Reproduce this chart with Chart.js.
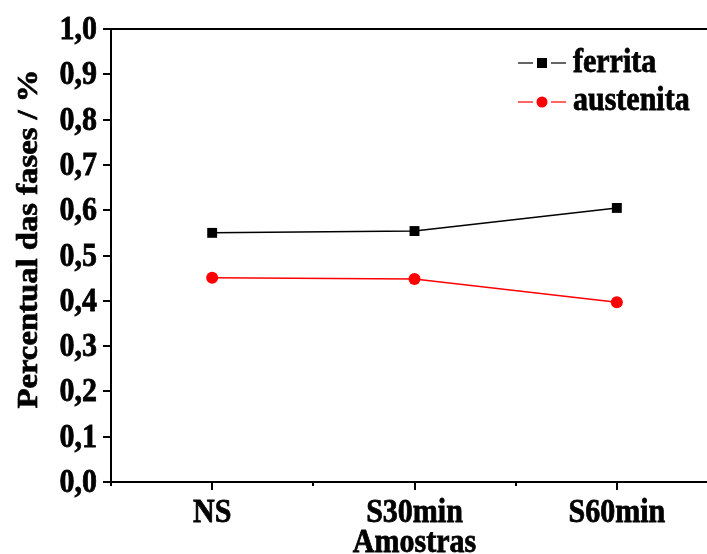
<!DOCTYPE html>
<html>
<head>
<meta charset="utf-8">
<script src="https://cdn.jsdelivr.net/npm/chart.js@4/dist/chart.umd.min.js"></script>
<style>
  html, body { margin: 0; padding: 0; background: #fff; overflow: hidden; }
  #wrap { width: 707px; height: 554px; overflow: hidden; }
</style>
</head>
<body>
<div id="wrap"><canvas id="c" width="740" height="554"></canvas></div>
<script>
// Samples and phase fractions
const categories = ['NS', 'S30min', 'S60min'];
const ferrita = [0.550, 0.554, 0.605];
const austenita = [0.451, 0.448, 0.397];
const yTicks = [0.0, 0.1, 0.2, 0.3, 0.4, 0.5, 0.6, 0.7, 0.8, 0.9, 1.0];

const FONT = '"Liberation Serif", "Times New Roman", serif';
const TEXT_FONT = 'bold 30px ' + FONT;
const STRETCH = 1.09; // tall serif lettering

const toPoints = arr => arr.map((v, i) => ({ x: i, y: v }));

// Heavy serif text, slightly elongated vertically
function drawText(ctx, str, x, y, align, rotate) {
  ctx.save();
  ctx.translate(x, y);
  ctx.scale(1, STRETCH);
  if (rotate) ctx.rotate(-Math.PI / 2);
  ctx.font = TEXT_FONT;
  ctx.textAlign = align;
  ctx.textBaseline = 'alphabetic';
  ctx.fillStyle = '#000';
  ctx.strokeStyle = '#000';
  ctx.lineWidth = 0.7;
  ctx.fillText(str, 0, 0);
  ctx.strokeText(str, 0, 0);
  ctx.restore();
}

// Frame, tick marks, tick labels, axis titles and legend
const decorations = {
  id: 'decorations',
  afterDraw(chart) {
    const { ctx, chartArea: a, scales: { x, y } } = chart;
    ctx.save();
    ctx.strokeStyle = '#000';
    ctx.lineWidth = 2;
    ctx.strokeRect(a.left, a.top, a.right - a.left, a.bottom - a.top);

    // y ticks (outward) with labels
    yTicks.forEach(v => {
      const py = Math.round(y.getPixelForValue(v));
      ctx.beginPath();
      ctx.moveTo(a.left - 8, py);
      ctx.lineTo(a.left, py);
      ctx.stroke();
      drawText(ctx, v.toFixed(1).replace('.', ','), 97, py + 10, 'right');
    });
    // x ticks: major at categories, minor between them
    for (let v = -0.5; v <= 2.5; v += 0.5) {
      const px = Math.round(x.getPixelForValue(v));
      const major = Number.isInteger(v);
      ctx.beginPath();
      ctx.moveTo(px, a.bottom);
      ctx.lineTo(px, a.bottom + (major ? 8 : 4));
      ctx.stroke();
    }
    categories.forEach((c, i) => {
      drawText(ctx, c, x.getPixelForValue(i), 522, 'center');
    });

    // axis titles
    drawText(ctx, 'Amostras', (a.left + a.right) / 2, 552, 'center');
    drawText(ctx, 'Percentual das fases / %', 37, 239, 'center', true);

    // legend
    const items = [
      { label: 'ferrita', color: '#000', lineColor: '#333', shape: 'rect', y: 63, base: 72 },
      { label: 'austenita', color: '#ff0000', lineColor: '#ff3333', shape: 'circle', y: 102, base: 110 }
    ];
    items.forEach(it => {
      ctx.strokeStyle = it.lineColor;
      ctx.lineWidth = 1.5;
      ctx.beginPath();
      ctx.moveTo(518, it.y);
      ctx.lineTo(533, it.y);
      ctx.moveTo(551, it.y);
      ctx.lineTo(566, it.y);
      ctx.stroke();
      ctx.fillStyle = it.color;
      if (it.shape === 'rect') {
        ctx.fillRect(537, it.y - 5, 10, 10);
      } else {
        ctx.beginPath();
        ctx.arc(542, it.y, 5.5, 0, Math.PI * 2);
        ctx.fill();
      }
      drawText(ctx, it.label, 573, it.base, 'left');
    });
    ctx.restore();
  }
};

new Chart(document.getElementById('c'), {
  type: 'line',
  data: {
    datasets: [
      {
        label: 'ferrita',
        data: toPoints(ferrita),
        borderColor: '#000',
        backgroundColor: '#000',
        borderWidth: 1.5,
        pointStyle: 'rect',
        pointRadius: 7,
        pointBorderWidth: 0,
        tension: 0
      },
      {
        label: 'austenita',
        data: toPoints(austenita),
        borderColor: '#ff0000',
        backgroundColor: '#ff0000',
        borderWidth: 1.5,
        pointStyle: 'circle',
        pointRadius: 6,
        pointBorderWidth: 0,
        tension: 0
      }
    ]
  },
  options: {
    responsive: false,
    animation: false,
    layout: { padding: { top: 29, right: 22, left: 0, bottom: 0 } },
    plugins: { legend: { display: false }, tooltip: { enabled: false } },
    scales: {
      x: {
        type: 'linear',
        min: -0.5,
        max: 2.5,
        afterFit: s => { s.height = 72; },
        grid: { display: false },
        border: { display: false },
        ticks: { display: false }
      },
      y: {
        min: 0,
        max: 1,
        afterFit: s => { s.width = 111; },
        grid: { display: false },
        border: { display: false },
        ticks: { display: false }
      }
    }
  },
  plugins: [decorations]
});
</script>
</body>
</html>
